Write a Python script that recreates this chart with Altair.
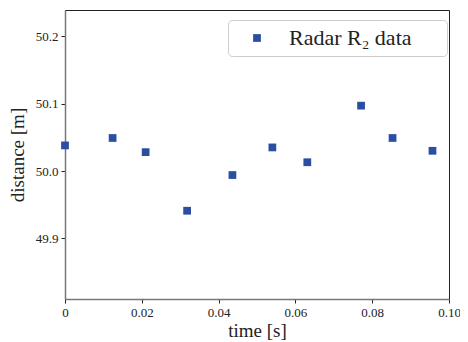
import altair as alt
import pandas as pd

times = [0.0, 0.0124, 0.0210, 0.0318, 0.0436, 0.0540, 0.0631, 0.0771, 0.0853, 0.0957]
distances = [50.038, 50.049, 50.028, 49.941, 49.994, 50.035, 50.013, 50.097, 50.049, 50.030]
series_name = "Radar R\u2082 data"
x_ticks = [0, 0.02, 0.04, 0.06, 0.08, 0.10]
y_ticks = [49.9, 50.0, 50.1, 50.2]

df = pd.DataFrame({"t": times, "d": distances, "s": [series_name] * len(times)})

font = "Liberation Serif"
pad = "\u00a0" * 5 + "\u200b"

chart = alt.Chart(df).mark_point(filled=True, shape="square", size=60, opacity=1).encode(
    x=alt.X("t:Q", scale=alt.Scale(domain=[0, 0.10], nice=False, zero=False),
            axis=alt.Axis(title="time [s]", values=x_ticks, labelFlush=False,
                          labelExpr="datum.value == 0 ? '0' : format(datum.value, '.2f')")),
    y=alt.Y("d:Q", scale=alt.Scale(domain=[49.81, 50.239], nice=False, zero=False),
            axis=alt.Axis(title="distance [m]", values=y_ticks, format=".1f", labelFlush=False)),
    color=alt.Color("s:N", scale=alt.Scale(range=["#2b4ea2"]),
                    legend=alt.Legend(title=None, orient="none", legendX=163, legendY=10,
                                      fillColor="white", strokeColor="#cccccc", cornerRadius=4,
                                      padding=7, symbolOffset=11, labelOffset=21, labelLimit=400,
                                      symbolType="square", symbolSize=60,
                                      labelFont=font, labelFontSize=22, labelColor="#222222",
                                      labelExpr="datum.label + '" + pad + "'")),
).properties(
    width=384, height=289,
    autosize=alt.AutoSizeParams(type="none"),
    padding={"left": 57, "top": 2, "right": 11, "bottom": 50},
).configure_view(
    stroke="#222222", strokeWidth=1
).configure_axis(
    domainColor="#777777", domainWidth=1.5, tickColor="#222222", tickSize=4,
    labelFont=font, labelFontSize=13, labelColor="#222222", grid=False,
    titleFont=font, titleFontSize=19, titleFontWeight="normal", titleColor="#222222",
    labelPadding=3,
).configure_axisX(titlePadding=2).configure_axisY(titlePadding=8)

chart.save("out.html", embed_options={"renderer": "svg", "actions": False})
